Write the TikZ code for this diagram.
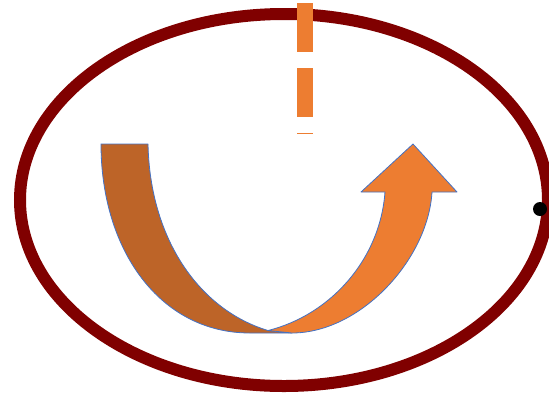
\documentclass[tikz,border=0pt]{standalone}
\usepackage{xcolor}
\definecolor{ringred}{HTML}{800000}
\definecolor{bandbrown}{HTML}{BD6428}
\definecolor{bandorange}{HTML}{ED7D31}
\definecolor{edgeblue}{HTML}{4472C4}

\begin{document}
\begin{tikzpicture}[
    x=1pt, y=-1pt,
    ring/.style={
        draw=ringred,
        line width=12pt
    },
    band/.style={
        draw=edgeblue,
        line width=0.8pt,
        line join=round
    },
    guide/.style={
        draw=bandorange,
        line width=16pt,
        dash pattern=on 49pt off 16pt
    },
    dotmark/.style={
        circle,
        fill=black,
        inner sep=0pt,
        minimum size=14pt
    }
]

\useasboundingbox (0,0) rectangle (549,392);

% Ring
\draw [ring] (284,200) ellipse [x radius=264, y radius=186];

% Dashed guide
\coordinate (gtop) at (304.7,3);
\coordinate (gend) at (304.7,134);
\draw [guide] (gtop) -- (gend);

% Back part of the U-turn
\draw [band, fill=bandbrown] (101,144) -- (148,144)
    .. controls (150,240) and (200,310) .. (268,330.5)
    -- (292,333) -- (250,333)
    .. controls (160,333) and (101,250) .. (101,144) -- cycle;

% Front part with the head
\draw [band, fill=bandorange] (268,330.5)
    .. controls (330,315) and (380,260) .. (385,192)
    -- (361,192) -- (413,144) -- (457,192) -- (432,192)
    .. controls (428,260) and (360,333) .. (292,333)
    -- cycle;

% Dot
\node (dot) [dotmark] at (540,209) {};

\end{tikzpicture}
\end{document}
